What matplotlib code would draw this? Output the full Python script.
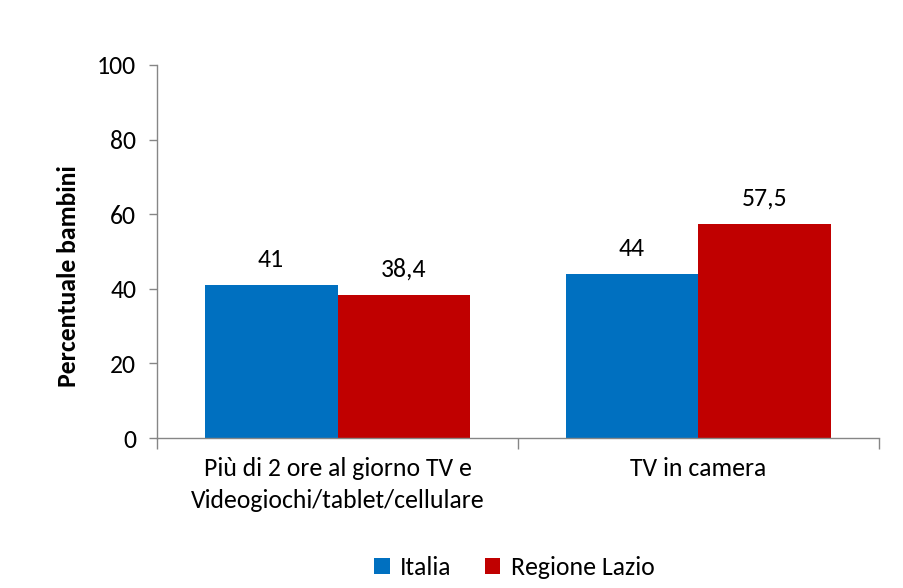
import matplotlib
matplotlib.use("Agg")
import matplotlib.pyplot as plt
import numpy as np
from matplotlib.font_manager import fontManager

categories = ["Più di 2 ore al giorno TV e\nVideogiochi/tablet/cellulare", "TV in camera"]
series_names = ["Italia", "Regione Lazio"]
italia = [41, 44]
lazio = [38.4, 57.5]
value_labels_italia = ["41", "44"]
value_labels_lazio = ["38,4", "57,5"]
yticks = [0, 20, 40, 60, 80, 100]

avail = {f.name for f in fontManager.ttflist}
fams = [f for f in ["Carlito", "Lato", "DejaVu Sans"] if f in avail]
plt.rcParams['font.family'] = fams

FS = 18.5

fig = plt.figure(figsize=(9.04, 5.88), dpi=100)
ax = fig.add_axes([0.1737, 0.2551, 0.9723 - 0.1737, 0.8895 - 0.2551])

x = np.arange(len(categories))
w = 0.368
b1 = ax.bar(x - w / 2, italia, w, color="#0070C0", label=series_names[0])
b2 = ax.bar(x + w / 2, lazio, w, color="#C00000", label=series_names[1])

for bars, labs in ((b1, value_labels_italia), (b2, value_labels_lazio)):
    for r, lab in zip(bars, labs):
        ax.annotate(lab, (r.get_x() + r.get_width() / 2, r.get_height()),
                    xytext=(0, 10), textcoords="offset points",
                    ha="center", va="bottom", fontsize=FS, color="black")

ax.set_xlim(-0.5, len(categories) - 0.5)
ax.set_ylim(0, 100)
ax.set_yticks(yticks)
ax.tick_params(axis="y", labelsize=FS, length=6, width=1, color="#868686", direction="out", pad=9)
ax.set_xticks(np.arange(-0.5, len(categories), 1.0))
ax.set_xticklabels([])
ax.set_xticks(x, minor=True)
ax.set_xticklabels(categories, minor=True, fontsize=FS, linespacing=1.45)
ax.tick_params(axis="x", which="major", length=8, width=1, color="#868686", direction="out")
ax.tick_params(axis="x", which="minor", length=0, pad=14)

for s in ["top", "right"]:
    ax.spines[s].set_visible(False)
for s in ["left", "bottom"]:
    ax.spines[s].set_color("#868686")
    ax.spines[s].set_linewidth(1)

ax.set_ylabel("Percentuale bambini", fontsize=18.5, fontweight="bold")
ax.yaxis.set_label_coords(-0.106, 0.434)

fig.legend(handles=[b1, b2], labels=series_names, loc="center", bbox_to_anchor=(0.569, 0.035),
           ncol=2, frameon=False, fontsize=FS, handlelength=0.6, handleheight=0.6,
           handletextpad=0.4, columnspacing=1.3)

fig.savefig("out.png", dpi=100)
